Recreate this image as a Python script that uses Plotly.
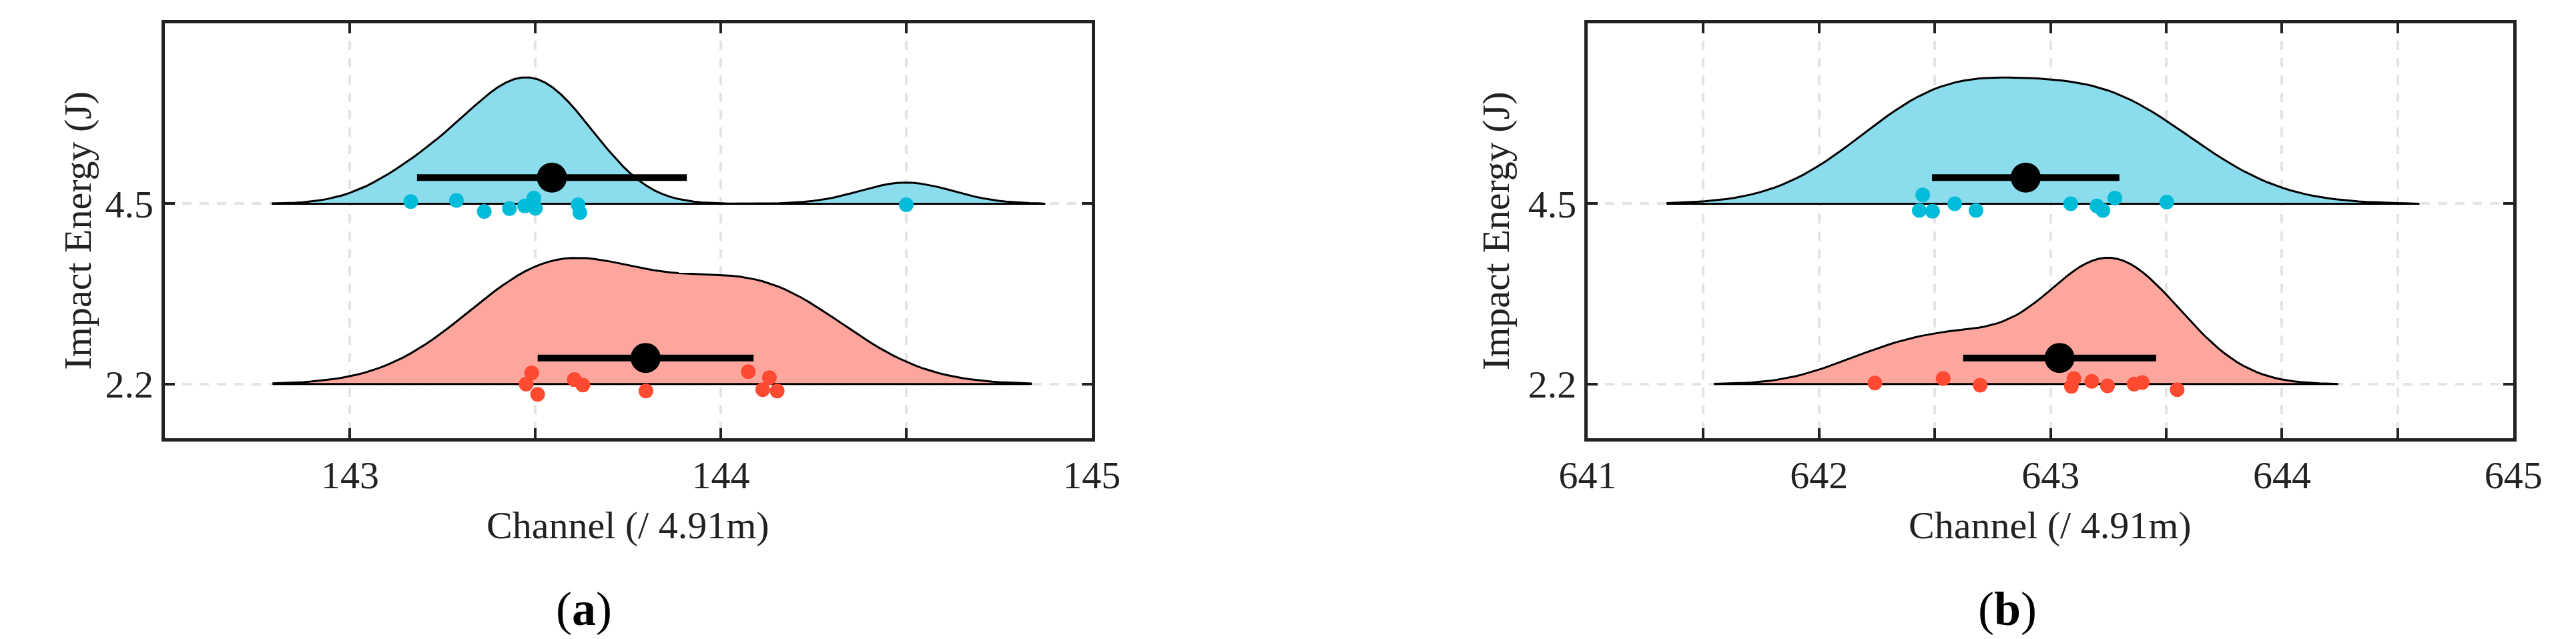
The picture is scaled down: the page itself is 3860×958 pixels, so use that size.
import numpy as np
import plotly.graph_objects as go

# impact energies (y categories) and channel readings
energy_labels = ["2.2", "4.5"]

a_45 = [143.164, 143.287, 143.362, 143.430, 143.471, 143.496, 143.500, 143.615, 143.620, 144.500]
a_45_jit = [0.012, 0.018, -0.043, -0.027, -0.012, 0.031, -0.025, -0.006, -0.049, -0.006]
a_22 = [143.490, 143.475, 143.506, 143.605, 143.628, 143.798, 144.074, 144.131, 144.113, 144.152]
a_22_jit = [0.062, 0.0, -0.057, 0.025, -0.005, -0.038, 0.069, 0.036, -0.031, -0.038]

b_45 = [642.448, 642.433, 642.490, 642.586, 642.678, 643.087, 643.200, 643.226, 643.278, 643.502]
b_45_jit = [0.049, -0.037, -0.042, 0.0, -0.037, 0.0, -0.012, -0.037, 0.031, 0.009]
b_22 = [642.241, 642.536, 642.696, 643.101, 643.090, 643.178, 643.246, 643.361, 643.396, 643.547]
b_22_jit = [0.006, 0.031, -0.006, 0.031, -0.012, 0.015, -0.010, 0.0, 0.009, -0.031]

# kde bandwidths (estimated from the drawn curves)
bw_a = [0.228, 0.125]
bw_b = [0.232, 0.364]

fill_cols = ["#fca69e", "#8bdcec"]
dot_cols = ["#ff4a32", "#00bcd8"]
FONT = "Liberation Serif"

fig = go.Figure()


def kde(vals, bw):
    v = np.array(vals)
    xi = np.linspace(v.min() - 3 * bw, v.max() + 3 * bw, 100)
    d = np.exp(-0.5 * ((xi[:, None] - v[None, :]) / bw) ** 2).sum(axis=1)
    return xi, d / d.max()


def add_group(vals, jit, bw, base, k, xa, ya):
    xi, d = kde(vals, bw)
    xs = list(xi) + [xi[-1], xi[0]]
    ys = list(base + 0.7 * d) + [base, base]
    fig.add_trace(go.Scatter(x=xs, y=ys, mode="lines", fill="toself",
                             fillcolor=fill_cols[k], line=dict(color="black", width=3),
                             xaxis=xa, yaxis=ya, showlegend=False, hoverinfo="skip"))
    fig.add_trace(go.Scatter(x=vals, y=[base + j for j in jit], mode="markers",
                             marker=dict(size=22, color=dot_cols[k]),
                             xaxis=xa, yaxis=ya, showlegend=False))
    m = np.mean(vals)
    s = np.std(vals, ddof=1)
    fig.add_trace(go.Scatter(x=[m - s, m + s], y=[base + 0.145] * 2, mode="lines",
                             line=dict(color="black", width=10),
                             xaxis=xa, yaxis=ya, showlegend=False))
    fig.add_trace(go.Scatter(x=[m], y=[base + 0.145], mode="markers",
                             marker=dict(size=45, color="black"),
                             xaxis=xa, yaxis=ya, showlegend=False))


add_group(a_22, a_22_jit, bw_a[0], 1, 0, "x", "y")
add_group(a_45, a_45_jit, bw_a[1], 2, 1, "x", "y")
add_group(b_22, b_22_jit, bw_b[0], 1, 0, "x2", "y2")
add_group(b_45, b_45_jit, bw_b[1], 2, 1, "x2", "y2")

grid = dict(showgrid=True, gridcolor="#e4e4e4", gridwidth=4, griddash="14px,12px")
common = dict(showline=True, linecolor="#222222", linewidth=5, mirror="ticks",
              ticks="inside", ticklen=15, tickwidth=4, tickcolor="#222222",
              zeroline=False, tickfont=dict(family=FONT, size=58, color="#222222"), **grid)
xminor = dict(dtick=0.5, ticks="inside", ticklen=15, tickwidth=4, tickcolor="#222222",
              showgrid=True, gridcolor="#e4e4e4", gridwidth=4, griddash="14px,12px")

fig.update_layout(
    width=3860, height=958,
    margin=dict(l=0, r=0, t=0, b=0),
    paper_bgcolor="white", plot_bgcolor="white",
    xaxis=dict(domain=[200 / 3860, 1621 / 3860], range=[142.5, 145.0001],
               dtick=1, tick0=0, minor=xminor, anchor="y", **common),
    yaxis=dict(domain=[1 - 649 / 958, 1 - 27 / 958], range=[0.7, 3.0],
               tickvals=[1, 2], ticktext=energy_labels, anchor="x", **common),
    xaxis2=dict(domain=[2381 / 3860, 3800 / 3860], range=[640.9999, 645.0001],
                dtick=1, tick0=0, minor=xminor, anchor="y2", **common),
    yaxis2=dict(domain=[1 - 649 / 958, 1 - 27 / 958], range=[0.7, 3.0],
                tickvals=[1, 2], ticktext=energy_labels, anchor="x2", **common),
)

tfont = dict(family=FONT, size=58, color="#222222")
for cx, lx, px_, lab in [(910, 66, 843, "(<b>a</b>)"), (3090, 2240, 3024, "(<b>b</b>)")]:
    fig.add_annotation(text="Channel (/ 4.91m)", x=cx / 3860, y=1 - 779 / 958, xref="paper",
                       yref="paper", showarrow=False, font=tfont, xanchor="center", yanchor="middle")
    fig.add_annotation(text="Impact Energy (J)", x=lx / 3860, y=1 - 338 / 958, xref="paper",
                       yref="paper", showarrow=False, font=tfont, textangle=-90,
                       xanchor="center", yanchor="middle")
    fig.add_annotation(text=lab, x=px_ / 3860, y=1 - 905 / 958, xref="paper", yref="paper",
                       showarrow=False, font=dict(family=FONT, size=72, color="black"),
                       xanchor="center", yanchor="middle")

fig.write_html("out.html")
